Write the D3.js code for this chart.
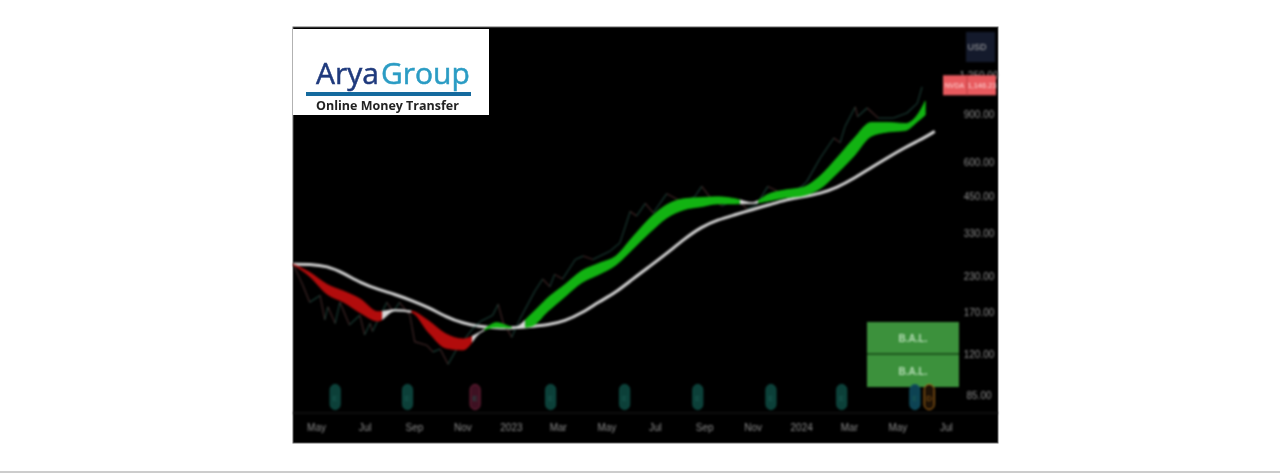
<!DOCTYPE html>
<html>
<head>
<meta charset="utf-8">
<script src="https://cdn.jsdelivr.net/npm/d3@7"></script>
<style>
  html, body { margin: 0; padding: 0; background: #fff; overflow: hidden; }
  text { font-family: "Liberation Sans", sans-serif; }
  .soft { filter: blur(0.9px); }
  .softer { filter: blur(0.6px); }
  .tickText { filter: blur(0.5px); }
</style>
</head>
<body>
<div id="chart"></div>
<script>
// values (log price axis)
const dates = ["2022-04-02","2022-04-23","2022-05-15","2022-06-05","2022-06-26","2022-07-18","2022-08-08","2022-08-29","2022-09-20","2022-10-11","2022-11-02","2022-11-23","2022-12-14","2023-01-05","2023-01-26","2023-02-17","2023-03-10","2023-03-31","2023-04-22","2023-05-13","2023-06-03","2023-06-25","2023-07-16","2023-08-07","2023-08-28","2023-09-18","2023-10-10","2023-10-31","2023-11-22","2023-12-13","2024-01-03","2024-01-25","2024-02-15","2024-03-07","2024-03-29","2024-04-19","2024-05-11","2024-05-26","2024-06-05","2024-06-17"];
const slowAverage = [255,255,251,236,218,206,198,188,177,164,155,151,149,149,151,153,158,169,186,201,225,251,279,315,348,370,386,403,420,438,449,461,485,523,574,625,680,716,741,778];
const bandUpper = [255,238,215,203,190,171,174,172,158,142,136,144,156,150,167,193,215,241,257,273,320,376,420,442,446,449,442,428,461,476,486,536,623,732,839,839,831,893,1003,null];
const bandLower = [254,230,198,185,169,158,172,170,143,126,124,143,150,149,151,172,194,218,234,253,289,333,376,403,413,423,423,424,434,446,453,481,546,630,746,774,783,843,892,null];

const priceDates = ["2022-04-02","2022-04-14","2022-04-23","2022-05-06","2022-05-12","2022-05-16","2022-05-25","2022-05-31","2022-06-12","2022-06-25","2022-07-01","2022-07-08","2022-07-11","2022-07-29","2022-08-06","2022-08-14","2022-08-27","2022-09-02","2022-09-17","2022-09-25","2022-10-04","2022-10-14","2022-10-25","2022-11-13","2022-11-23","2022-12-09","2022-12-16","2022-12-22","2023-01-02","2023-01-12","2023-01-31","2023-02-10","2023-02-19","2023-02-25","2023-03-07","2023-03-23","2023-04-02","2023-04-14","2023-05-06","2023-05-18","2023-05-27","2023-05-31","2023-06-08","2023-06-19","2023-06-29","2023-07-16","2023-07-29","2023-08-05","2023-08-20","2023-08-29","2023-09-08","2023-09-23","2023-10-12","2023-10-25","2023-11-06","2023-11-20","2023-12-09","2023-12-31","2024-01-08","2024-01-25","2024-02-11","2024-02-19","2024-02-25","2024-03-09","2024-03-12","2024-03-24","2024-04-07","2024-04-26","2024-05-13","2024-05-26","2024-06-01"];
const priceValues = [255,215,185,196,160,178,155,185,153,166,141,155,145,185,171,185,166,133,129,122,125,110,125,147,157,166,182,157,138,160,203,225,211,234,225,265,273,265,285,305,365,397,382,425,392,461,440,430,449,490,449,416,440,405,420,490,461,486,510,622,736,708,808,955,880,947,870,870,908,985,1130];

// where the band changes colour
const regimeStarts = ["2022-04-02","2022-07-23","2022-08-29","2022-11-13","2022-11-29","2023-01-02","2023-01-19","2023-10-16","2023-11-08"];
const regimeEnds = ["2022-07-23","2022-08-29","2022-11-13","2022-11-29","2023-01-02","2023-01-19","2023-10-16","2023-11-08","2024-06-10"];
const regimeKinds = ["bear","flat","bear","flat","bull","flat","bull","flat","bull"];

const eventDates = ["2022-05-25","2022-08-24","2022-11-17","2023-02-20","2023-05-24","2023-08-24","2023-11-24","2024-02-21","2024-05-23","2024-06-10"];
const eventKinds = ["earn","earn","miss","earn","earn","earn","earn","earn","next","div"];
const eventLabels = ["E","E","E","E","E","E","E","E","E","D"];

const yTicks = [85,120,170,230,330,450,600,900,1250];
const yTickLabels = ["85.00","120.00","170.00","230.00","330.00","450.00","600.00","900.00","1,250.00"];
const xTicks = ["2022-05-01","2022-07-01","2022-09-01","2022-11-01","2023-01-01","2023-03-01","2023-05-01","2023-07-01","2023-09-01","2023-11-01","2024-01-01","2024-03-01","2024-05-01","2024-07-01"];
const xTickLabels = ["May","Jul","Sep","Nov","2023","Mar","May","Jul","Sep","Nov","2024","Mar","May","Jul"];

const lastPrice = "1,146.23";
const lastValue = 1146.23;
const ticker = "NVDA";
const signalLabels = ["B.A.L.","B.A.L."];

const PANEL = { LEFT: 293, RIGHT: 998, TOP: 27, BOTTOM: 443, AXIS: 413 };
const parse = d3.utcParse("%Y-%m-%d");

const svg = d3.select("#chart").append("svg")
  .attr("width", 1280)
  .attr("height", 473)
  .style("display", "block");

const x = d3.scaleUtc()
  .domain([parse("2022-04-02"), parse("2024-07-25")])
  .range([PANEL.LEFT, 965]);
const y = d3.scaleLog()
  .domain([73, 1870])
  .range([PANEL.AXIS, PANEL.TOP]);

const regimeColor = d3.scaleOrdinal()
  .domain(["bear","flat","bull"])
  .range(["#b20c0c","#d8d8d8","#12b312"]);
const eventFill = d3.scaleOrdinal()
  .domain(["earn","miss","next","div"])
  .range(["#0c4039","#3e1122","#0d4353","#1e1206"]);
const eventStroke = d3.scaleOrdinal()
  .domain(["earn","miss","next","div"])
  .range(["#0f4f46","#73233c","#115666","#c07a1c"]);

// black panel and frame
svg.append("line")
  .attr("x1", 0).attr("x2", 1280).attr("y1", 472).attr("y2", 472)
  .attr("stroke", "#9a9a9a");
svg.append("rect")
  .attr("x", PANEL.LEFT).attr("y", PANEL.TOP)
  .attr("width", PANEL.RIGHT - PANEL.LEFT).attr("height", PANEL.BOTTOM - PANEL.TOP)
  .attr("fill", "#000")
  .attr("stroke", "#666");

const chart = svg.append("g").attr("class", "soft");

chart.append("line")
  .attr("x1", PANEL.LEFT).attr("x2", PANEL.RIGHT)
  .attr("y1", PANEL.AXIS).attr("y2", PANEL.AXIS)
  .attr("stroke", "#1c1c1c");

// slow average
const smaLine = d3.line()
  .x((d, i) => x(parse(dates[i])))
  .y(d => y(d))
  .curve(d3.curveBasis);
chart.append("path")
  .attr("d", smaLine(slowAverage))
  .attr("fill", "none")
  .attr("stroke", "#d2d2d2")
  .attr("stroke-width", 3);

// price, one short piece per step so it can go up/down coloured
const priceSteps = priceValues.slice(1).map((v, i) => ({
  x1: x(parse(priceDates[i])), y1: y(priceValues[i]),
  x2: x(parse(priceDates[i + 1])), y2: y(v),
  up: v >= priceValues[i]
}));
chart.append("g").selectAll("line")
  .data(priceSteps)
  .join("line")
  .attr("x1", d => d.x1).attr("y1", d => d.y1)
  .attr("x2", d => d.x2).attr("y2", d => d.y2)
  .attr("stroke", d => d.up ? "#2f6a5c" : "#6e4242")
  .attr("stroke-width", 1.1)
  .attr("opacity", 0.6);

// band between the two fast averages, clipped per regime
const bandArea = d3.area()
  .defined(i => bandUpper[i] !== null)
  .x(i => x(parse(dates[i])))
  .y0(i => y(bandLower[i]))
  .y1(i => y(bandUpper[i]))
  .curve(d3.curveMonotoneX);
const bandPath = bandArea(d3.range(dates.length));

const defs = svg.append("defs");
regimeKinds.forEach((kind, i) => {
  defs.append("clipPath").attr("id", "regime" + i)
    .append("rect")
    .attr("x", x(parse(regimeStarts[i])))
    .attr("width", x(parse(regimeEnds[i])) - x(parse(regimeStarts[i])))
    .attr("y", PANEL.TOP)
    .attr("height", PANEL.AXIS - PANEL.TOP);
  chart.append("path")
    .attr("d", bandPath)
    .attr("clip-path", `url(#regime${i})`)
    .attr("fill", regimeColor(kind))
    .attr("stroke", regimeColor(kind))
    .attr("stroke-width", 0.8);
});

// signal boxes
chart.append("rect")
  .attr("x", 867).attr("y", 322).attr("width", 92).attr("height", 65)
  .attr("fill", "#1d561d");
const signals = chart.append("g").selectAll("g")
  .data(signalLabels)
  .join("g")
  .attr("transform", (d, i) => `translate(867,${322 + i * 33})`);
signals.append("rect")
  .attr("width", 92).attr("height", (d, i) => 31 + i)
  .attr("fill", "#3c913c");
signals.append("text")
  .attr("class", "tickText")
  .attr("x", 46).attr("y", 20)
  .attr("text-anchor", "middle")
  .attr("font-size", 10).attr("font-weight", "bold")
  .attr("fill", "#b5dcb5")
  .text(d => d);

// earnings / dividend markers
const markers = chart.append("g").selectAll("g")
  .data(eventDates)
  .join("g")
  .attr("transform", d => `translate(${x(parse(d))},397)`);
markers.append("rect")
  .attr("x", -5).attr("y", -12.5).attr("width", 10).attr("height", 25).attr("rx", 5)
  .attr("fill", (d, i) => eventFill(eventKinds[i]))
  .attr("stroke", (d, i) => eventStroke(eventKinds[i]))
  .attr("stroke-width", 1);
markers.append("text")
  .attr("text-anchor", "middle").attr("y", 3.5)
  .attr("font-size", 8)
  .attr("fill", (d, i) => eventKinds[i] === "div" ? "#9a6216" : "#1d5f56")
  .text((d, i) => eventLabels[i]);

// axes
const yAxis = d3.axisRight(y)
  .tickValues(yTicks)
  .tickFormat((d, i) => yTickLabels[i])
  .tickSize(0);
const gy = chart.append("g")
  .attr("transform", "translate(963,0)")
  .call(yAxis);
gy.select(".domain").remove();
gy.selectAll("text").attr("x", 16).attr("text-anchor", "middle").attr("class", "tickText")
  .attr("font-size", 10).attr("fill", "#8c8c8c").style("font-family", '"Liberation Sans", sans-serif');

const xAxis = d3.axisBottom(x)
  .tickValues(xTicks.map(parse))
  .tickFormat((d, i) => xTickLabels[i])
  .tickSize(0);
const gx = chart.append("g")
  .attr("transform", "translate(0,421)")
  .call(xAxis);
gx.select(".domain").remove();
gx.selectAll("text").attr("class", "tickText")
  .attr("font-size", 10).attr("fill", "#8c8c8c").style("font-family", '"Liberation Sans", sans-serif');

// currency box and last price tag
chart.append("rect")
  .attr("x", 966).attr("y", 32).attr("width", 29).attr("height", 30)
  .attr("fill", "#141a2c");
chart.append("text")
  .attr("class", "tickText")
  .attr("x", 977).attr("y", 50).attr("text-anchor", "middle")
  .attr("font-size", 9).attr("fill", "#a8a8a8")
  .text("USD");

const tag = chart.append("g").attr("transform", `translate(943,${y(lastValue)})`);
tag.append("rect")
  .attr("y", -10).attr("width", 53).attr("height", 20)
  .attr("fill", "#e85a5e");
tag.append("rect")
  .attr("x", 23).attr("y", -10).attr("width", 2).attr("height", 20)
  .attr("fill", "#d24a4e");
tag.append("text")
  .attr("x", 11.5).attr("y", 3).attr("text-anchor", "middle")
  .attr("font-size", 7).attr("fill", "#ffd9d9")
  .text(ticker);
tag.append("text")
  .attr("x", 39).attr("y", 3).attr("text-anchor", "middle")
  .attr("font-size", 7.5).attr("fill", "#ffd9d9")
  .text(lastPrice);

// logo
const logo = svg.append("g").attr("class", "softer");
logo.append("rect")
  .attr("x", 293).attr("y", 29).attr("width", 196).attr("height", 86)
  .attr("fill", "#fff");
const brand = logo.append("text")
  .attr("x", 316).attr("y", 84)
  .attr("font-size", 30)
  .attr("stroke-width", 0.5)
  .style("font-family", '"Open Sans", sans-serif');
brand.append("tspan").attr("fill", "#1f3a7d").attr("stroke", "#1f3a7d").text("Arya");
brand.append("tspan").attr("fill", "#2b9cc4").attr("stroke", "#2b9cc4").attr("dx", 2).text("Group");
logo.append("rect")
  .attr("x", 306).attr("y", 92).attr("width", 165).attr("height", 4)
  .attr("fill", "#156a9e");
logo.append("text")
  .attr("x", 316).attr("y", 110)
  .attr("font-size", 12.5).attr("font-weight", "bold").attr("fill", "#222")
  .style("font-family", '"Open Sans", sans-serif')
  .text("Online Money Transfer");
</script>
</body>
</html>
